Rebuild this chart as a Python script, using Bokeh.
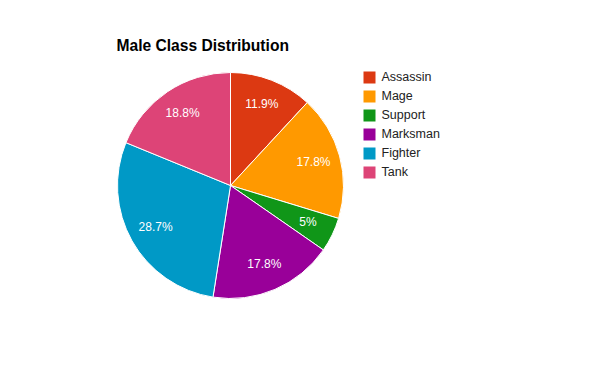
from bokeh.plotting import figure
from bokeh.models import Range1d, ColumnDataSource
from bokeh.core.properties import value
from bokeh.embed import file_html
from bokeh.resources import INLINE
import numpy as np

categories = ["Assassin", "Mage", "Support", "Marksman", "Fighter", "Tank"]
counts = [12, 18, 5, 18, 29, 19]
colors = ["#dc3912", "#ff9900", "#109618", "#990099", "#0099c6", "#dd4477"]
title_text = "Male Class Distribution"

W, H = 584, 355
p = figure(width=W, height=H, output_backend="svg", toolbar_location=None,
           x_range=Range1d(0, W), y_range=Range1d(0, H), min_border=0)
p.axis.visible = False
p.grid.visible = False
p.outline_line_color = None
p.background_fill_color = "white"
p.border_fill_color = "white"

def fy(py):
    return H - py

cx, cy, R = 230, fy(185), 113
vals = np.array(counts, dtype=float)
frac = vals / vals.sum()
cum = np.concatenate([[0], np.cumsum(frac)])
start = np.pi / 2 - 2 * np.pi * cum[:-1]
end = np.pi / 2 - 2 * np.pi * cum[1:]
mid = (start + end) / 2
labels = []
for f in frac:
    s = f"{f*100:.1f}"
    if s.endswith(".0"):
        s = s[:-2]
    labels.append(s + "%")

src = ColumnDataSource(dict(start=end, end=start, color=colors, cat=categories))
p.wedge(x=cx, y=cy, radius=R, start_angle="start", end_angle="end",
        fill_color="color", line_color="white", line_width=1, source=src)

lr = 86
p.text(x=list(cx + lr * np.cos(mid)), y=list(cy + lr * np.sin(mid) + 1), text=labels,
       text_color="white", text_font=value("Liberation Sans"), text_font_size="12px",
       text_align="center", text_baseline="middle")

p.text(x=[116], y=[fy(45)], text=[title_text], text_font=value("Liberation Sans"),
       text_font_size="15.6px", text_font_style="bold", text_color="black",
       text_align="left", text_baseline="middle")

ly = [fy(76 + 19 * i) for i in range(len(categories))]
p.rect(x=[369] * len(categories), y=[fy(77 + 19 * i) for i in range(len(categories))],
       width=12, height=12, fill_color=colors, line_color=None)
p.text(x=[381] * len(categories), y=ly, text=categories, text_color="#222222",
       text_font=value("Liberation Sans"), text_font_size="12.5px",
       text_align="left", text_baseline="middle")

open("out.html", "w").write(file_html(p, INLINE))
